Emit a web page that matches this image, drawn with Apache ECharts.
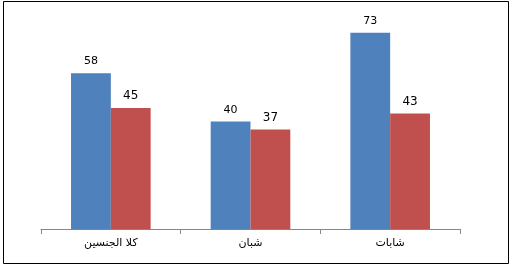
<!DOCTYPE html>
<html><head><meta charset="utf-8">
<script src="https://cdn.jsdelivr.net/npm/echarts@6/dist/echarts.min.js"></script>
<style>html,body{margin:0;padding:0;background:#fff}#c{width:513px;height:265px}</style>
</head><body><div id="c"></div>
<script>
const categories = ['كلا الجنسين', 'شبان', 'شابات'];
const seriesBlue = [58, 40, 73];
const seriesRed = [45, 37, 43];
const chart = echarts.init(document.getElementById('c'), null, {renderer:'canvas'});
const lbl = {show:true, position:'top', distance:6, color:'#000', fontSize:11, fontFamily:'DejaVu Sans'};
const lbl2 = Object.assign({}, lbl, {fontSize:12});
chart.setOption({
  animation:false,
  graphic:[{type:'rect', shape:{x:3.5,y:1.5,width:505,height:262}, style:{fill:'none', stroke:'#000', lineWidth:1}}],
  grid:{left:41, right:53, top:14, bottom:36},
  xAxis:{type:'category', data:categories,
    axisLine:{lineStyle:{color:'#868686'}},
    axisTick:{show:true, length:5, lineStyle:{color:'#868686'}},
    axisLabel:{color:'#000', fontSize:11, fontFamily:'DejaVu Sans', margin:9}},
  yAxis:{type:'value', min:0, max:80, show:false, splitLine:{show:false}},
  series:[
    {type:'bar', data:seriesBlue, barGap:'0%', barCategoryGap:'43%', itemStyle:{color:'#4F81BD'}, label:lbl},
    {type:'bar', data:seriesRed, itemStyle:{color:'#C0504D'}, label:lbl2}
  ]
});
</script></body></html>
